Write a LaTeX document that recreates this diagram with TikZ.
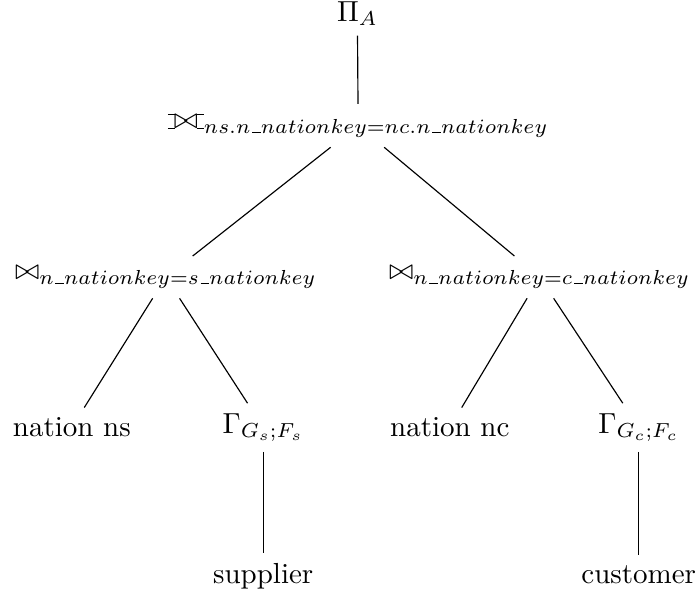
\documentclass[tikz,border=0pt]{standalone}
\usepackage{amsmath}
\usepackage{amssymb}
\usepackage{tikz}
\usetikzlibrary{positioning}

% full outer join symbol and a short underscore
\newcommand{\ojoinbar}{\setbox0=\hbox{$\bowtie$}\rule[-.02ex]{.25em}{.4pt}\llap{\rule[\ht0]{.25em}{.4pt}}}
\newcommand{\fullojoin}{\mathbin{\ojoinbar\mkern-5.8mu\bowtie\mkern-5.8mu\ojoinbar}}
\newcommand{\us}{\kern.06em\vbox{\hrule width.3em}}

\tikzset{
  opnode/.style={inner sep=3.33pt},
  edge/.style={thin}
}

\begin{document}
\begin{tikzpicture}
\useasboundingbox (0,0) rectangle (8.47,-7.28);

% --- Root: projection and outer join ---
\node[opnode, anchor=base] (proj) at (4.33,-0.255) {$\Pi_A$};
\node[opnode, anchor=base] (top-join) at (4.34,-1.56) {$\fullojoin_{ns.n\us nationkey=nc.n\us nationkey}$};
\draw[edge] (proj) -- (top-join);

% --- Supplier side ---
\node[opnode, anchor=base] (join-s) at (2.01,-3.39) {$\bowtie_{n\us nationkey=s\us nationkey}$};
\node[opnode] (nation-ns) at (0.87,-5.18) {nation ns};
\node[opnode] (agg-s) at (3.19,-5.18) {$\Gamma_{G_s;F_s}$};
\node[opnode, anchor=base] (supplier) at (3.19,-7.07) {supplier};
\draw[edge] (top-join) -- (join-s);
\draw[edge] (join-s) -- (nation-ns);
\draw[edge] (join-s) -- (agg-s);
\draw[edge] (agg-s) -- (supplier);

% --- Customer side ---
\node[opnode, anchor=base] (join-c) at (6.54,-3.39) {$\bowtie_{n\us nationkey=c\us nationkey}$};
\node[opnode] (nation-nc) at (5.45,-5.18) {nation nc};
\node[opnode] (agg-c) at (7.74,-5.18) {$\Gamma_{G_c;F_c}$};
\node[opnode, anchor=base] (customer) at (7.74,-7.07) {customer};
\draw[edge] (top-join) -- (join-c);
\draw[edge] (join-c) -- (nation-nc);
\draw[edge] (join-c) -- (agg-c);
\draw[edge] (agg-c) -- (customer);

\end{tikzpicture}
\end{document}
